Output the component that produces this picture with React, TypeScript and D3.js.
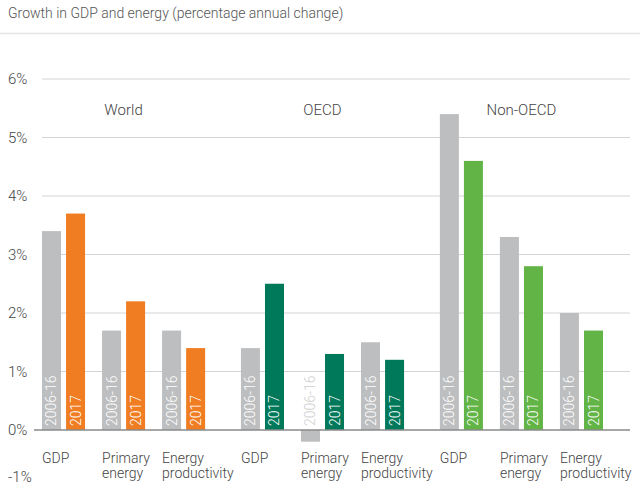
import { scaleBand, scaleLinear } from "d3";

// chart data
const regions = ["World", "OECD", "Non-OECD"];
const categories = ["GDP", "Primary energy", "Energy productivity"];
const periods = ["2006-16", "2017"];

const world2006_16 = [3.4, 1.7, 1.7];
const world2017 = [3.7, 2.2, 1.4];
const oecd2006_16 = [1.4, -0.2, 1.5];
const oecd2017 = [2.5, 1.3, 1.2];
const nonOecd2006_16 = [5.4, 3.3, 2.0];
const nonOecd2017 = [4.6, 2.8, 1.7];

const yTicks = [-1, 0, 1, 2, 3, 4, 5, 6];

const regionSeries = [
  [world2006_16, world2017],
  [oecd2006_16, oecd2017],
  [nonOecd2006_16, nonOecd2017],
];

const GREY = "#bdbec0";
const regionColors = ["#f07d22", "#00785a", "#63b446"];

const width = 640;
const height = 495;

export default function App() {
  const y = scaleLinear().domain([0, 6]).range([430, 79]);

  const x0 = scaleBand<string>().domain(regions).range([42, 603]).paddingInner(0.18);
  const x1 = scaleBand<string>().domain(categories).range([0, x0.bandwidth()]).paddingInner(0.283);
  const x2 = scaleBand<string>().domain(periods).range([0, x1.bandwidth()]).paddingInner(0.21);

  const font = "Roboto, 'Open Sans', sans-serif";

  return (
    <svg
      width={width}
      height={height}
      style={{ position: "absolute", left: 0, top: 0, background: "#fff" }}
      fontFamily={font}
    >
      {/* title */}
      <text x={8} y={18} fontSize={14} fill="#555" fontWeight={300}>
        Growth in GDP and energy (percentage annual change)
      </text>
      <line x1={0} x2={width} y1={33.5} y2={33.5} stroke="#e4e4e4" strokeWidth={1.5} />

      {/* gridlines and y labels */}
      {yTicks.map((t) => (
        <g key={t}>
          {t > 0 && (
            <line x1={42} x2={630} y1={y(t)} y2={y(t)} stroke="#d4d4d4" strokeWidth={1} />
          )}
          <text
            x={8}
            y={Math.min(y(t), 477)}
            fontSize={15}
            fill="#444"
            fontWeight={300}
            dominantBaseline="central"
          >
            {t}%
          </text>
        </g>
      ))}

      {/* bars */}
      {regions.map((r, ri) => (
        <g key={r} transform={`translate(${x0(r)},0)`}>
          <text
            x={x0.bandwidth() / 2}
            y={115}
            textAnchor="middle"
            fontSize={15}
            fill="#444"
            fontWeight={300}
          >
            {r}
          </text>
          {categories.map((c, ci) => (
            <g key={c} transform={`translate(${x1(c)},0)`}>
              {periods.map((p, pi) => {
                const v = regionSeries[ri][pi][ci];
                const bx = x2(p) as number;
                const top = Math.min(y(v), y(0));
                const h = Math.abs(y(v) - y(0));
                return (
                  <g key={p}>
                    <rect
                      x={bx}
                      y={top}
                      width={x2.bandwidth()}
                      height={h}
                      fill={pi === 0 ? GREY : regionColors[ri]}
                    />
                    <text
                      transform={`translate(${bx + x2.bandwidth() / 2},${y(0) - 4}) rotate(-90)`}
                      fontSize={14}
                      fontWeight={300}
                      fill={v < 0 ? "#cfcfcf" : "#fff"}
                      dominantBaseline="central"
                    >
                      {p}
                    </text>
                  </g>
                );
              })}
              {c.split(" ").map((w, li) => (
                <text
                  key={w}
                  x={0}
                  y={463 + li * 15}
                  fontSize={14}
                  fill="#444"
                  fontWeight={300}
                >
                  {w}
                </text>
              ))}
            </g>
          ))}
        </g>
      ))}

      {/* zero line */}
      <line x1={34} x2={630} y1={y(0)} y2={y(0)} stroke="#8a8a8a" strokeWidth={1.5} />
    </svg>
  );
}
